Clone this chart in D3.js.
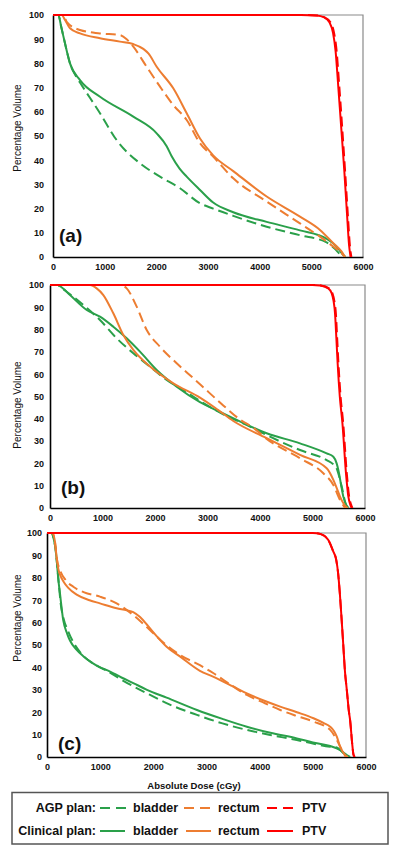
<!DOCTYPE html>
<html>
<head>
<meta charset="utf-8">
<script src="https://cdn.jsdelivr.net/npm/d3@7"></script>
<style>
  html, body { margin: 0; padding: 0; background: #fff; }
  svg { display: block; }
  text { font-family: "Liberation Sans", Arial, sans-serif; }
</style>
</head>
<body>
<svg id="chart" width="400" height="856"></svg>
<script>
// ---------------- DATA ----------------
const xTickValues = [0, 1000, 2000, 3000, 4000, 5000, 6000];
const yTickValues = [0, 10, 20, 30, 40, 50, 60, 70, 80, 90, 100];
const panelLabels = ["(a)", "(b)", "(c)"];
const xAxisTitle = "Absolute Dose (cGy)";
const yAxisTitle = "Percentage Volume";
const structures = ["bladder", "rectum", "PTV"];
const planNames = ["AGP plan:", "Clinical plan:"];

// Panel (a)  [dose cGy, volume %]
const aBladderAGP = [[0,100],[103,100],[160,95],[232,88.3],[329,80],[450,74.5],[555,71],[910,59.4],[1232,48.3],[1684,38.7],[2071,33.2],[2458,28.4],[2845,22.2],[3100,20],[3489,17],[4136,12.5],[4780,9],[5297,6],[5450,3.5],[5560,1],[5620,0]];
const aBladderClin = [[0,100],[103,100],[160,95],[232,88.3],[329,80],[523,73.1],[910,66.2],[1554,58],[2007,51.1],[2200,45.8],[2300,41.5],[2450,36.5],[2588,33.2],[2845,27.7],[3100,22.5],[3489,18.5],[4136,14.5],[4780,11],[5297,7.5],[5490,4.3],[5619,0.8],[5660,0]];
const aRectumAGP = [[0,100],[200,100],[265,97.2],[523,93.8],[910,92.4],[1297,91.7],[1426,90],[1555,86.9],[1813,78.6],[2071,70.4],[2328,62.8],[2588,56.6],[2845,47],[3100,41.5],[3489,32.5],[4136,22.9],[4780,13.9],[5167,8.4],[5425,4.3],[5619,0.8],[5650,0]];
const aRectumClin = [[0,100],[168,100],[232,98],[329,94.5],[523,92.4],[910,90.4],[1297,89],[1550,88],[1748,86],[1850,84],[2007,78.6],[2328,69.7],[2588,59.4],[2845,49],[3100,42],[3489,35.5],[4136,25],[4780,16.7],[5167,11.2],[5425,5.7],[5587,2.2],[5651,0]];
const aPTVAGP = [[0,100],[4800,100],[5100,99.8],[5260,99],[5370,97],[5440,92.6],[5490,85],[5536,72],[5570,62],[5605,51],[5655,35],[5705,18],[5745,5],[5775,0]];
const aPTVClin = [[0,100],[4800,100],[5100,99.8],[5250,99],[5350,97],[5420,92.6],[5470,85],[5516,72],[5550,62],[5587,51],[5640,35],[5690,18],[5730,5],[5760,0]];

// Panel (b)
const bBladderAGP = [[0,100],[150,100],[200,99],[318,97],[635,91],[952,84.3],[1270,76.1],[1587,69.4],[1905,63.4],[2222,57.4],[2540,52.9],[2857,48],[3300,42],[3810,36.5],[4127,32.7],[4762,26],[5270,21.5],[5400,19.5],[5460,17.8],[5510,14],[5556,9.6],[5651,0.6],[5670,0]];
const bBladderClin = [[0,100],[150,100],[190,99.5],[381,95.5],[699,88.8],[952,85.8],[1206,81.3],[1461,76.1],[1714,70.1],[2032,61.9],[2413,54.4],[2857,47.5],[3200,43.5],[3556,39.5],[4127,33.5],[4762,29],[5270,24.5],[5397,23],[5460,20],[5492,17],[5540,11],[5587,5.1],[5683,0]];
const bRectumAGP = [[0,100],[1333,100],[1461,98.5],[1651,90.3],[1842,79.8],[2095,72.3],[2413,64.9],[2730,58.2],[2857,55.5],[3300,46],[3600,40],[3900,35.5],[4127,31],[4762,22.3],[5206,15.6],[5397,10.3],[5524,3.6],[5620,0]];
const bRectumClin = [[0,100],[762,100],[889,98.5],[1016,95.5],[1206,87.3],[1397,77.6],[1587,70.9],[1905,63.4],[2349,55.9],[2857,49.5],[3200,44],[3492,39],[4127,31.3],[4762,23.8],[5270,17.8],[5397,12.6],[5460,9],[5524,5.1],[5651,0.3],[5670,0]];
const bPTVAGP = [[0,100],[5000,100],[5160,99.8],[5315,98.5],[5380,96.3],[5415,93],[5445,87.3],[5470,76],[5494,64.9],[5535,50],[5585,38],[5655,15],[5698,5.1],[5735,1.5],[5760,0]];
const bPTVClin = [[0,100],[5000,100],[5143,99.8],[5300,98.5],[5365,96.3],[5400,93],[5429,87.3],[5455,76],[5479,64.9],[5520,50],[5570,38],[5640,15],[5683,5.1],[5720,1.5],[5746,0]];

// Panel (c)
const cBladderAGP = [[0,100],[80,100],[130,97],[160,93],[182,88],[220,78],[260,68],[310,62],[400,56],[501,51],[650,46],[850,42],[1000,40],[1128,38.5],[1400,34.5],[1880,28.4],[2300,23.5],[2820,18.8],[3300,15],[3759,12.1],[4200,9.8],[4699,7.6],[5000,6],[5326,4.6],[5451,4.3],[5577,1.6],[5650,0]];
const cBladderClin = [[0,100],[80,100],[130,97],[160,93],[182,88],[210,80],[244,73],[306,61],[380,55],[432,52],[550,48],[682,45],[850,42],[996,40],[1128,38.8],[1400,35.5],[1622,33],[1880,30],[2250,26.5],[2820,21],[3300,17],[3759,13.5],[4200,10.8],[4699,8.3],[5000,6.5],[5326,4.9],[5514,3.1],[5639,0.9],[5700,0]];
const cRectumAGP = [[0,100],[100,100],[150,96],[182,89],[244,83.5],[350,79],[494,76],[700,73.5],[996,71.6],[1310,68.6],[1622,63.4],[1936,56.7],[2193,51],[2506,45.5],[2876,41],[3133,37.4],[3500,31.5],[3759,27.7],[4100,24],[4386,21],[4700,18.3],[5013,15.8],[5326,12.1],[5451,7.6],[5545,3.1],[5620,0]];
const cRectumClin = [[0,100],[100,100],[150,96],[182,89],[213,84],[260,80.5],[306,78.5],[400,75.5],[558,72.5],[800,70],[996,68.6],[1310,66.4],[1500,65.5],[1622,64.7],[1750,62.5],[1900,58.5],[2062,54],[2250,49.2],[2506,44.8],[2876,38.5],[3133,35.8],[3500,31.5],[3759,28.4],[4100,25],[4386,22.5],[4700,20],[5013,17.3],[5200,15.2],[5326,13.5],[5400,11.5],[5451,9.1],[5514,4.6],[5608,0.9],[5660,0]];
const cPTVAGP = [[0,100],[5000,100],[5150,99.5],[5288,97],[5380,92],[5440,88],[5476,82],[5508,73],[5540,62],[5570,51],[5605,38],[5639,30],[5680,20],[5701,16.5],[5740,6],[5765,1],[5790,0]];
const cPTVClin = [[0,100],[5000,100],[5150,99.5],[5288,97],[5380,92],[5440,88],[5476,82],[5508,73],[5540,62],[5570,51],[5605,38],[5639,30],[5680,20],[5701,16.5],[5740,6],[5765,1],[5790,0]];

// ---------------- STYLE / LAYOUT ----------------
const colors = { bladder: "#2AA04A", rectum: "#ED7D31", PTV: "#FF0000" };
const dashPattern = "10,5";

const layout = [
  { left: 53, right: 363, top: 15, bottom: 257, labelRight: 44, labelX: 59, labelY: 242, yTitleY: 128,
    series: { bladder: [aBladderAGP, aBladderClin], rectum: [aRectumAGP, aRectumClin], PTV: [aPTVAGP, aPTVClin] } },
  { left: 50, right: 365, top: 285, bottom: 508, labelRight: 44, labelX: 61, labelY: 494, yTitleY: 405,
    series: { bladder: [bBladderAGP, bBladderClin], rectum: [bRectumAGP, bRectumClin], PTV: [bPTVAGP, bPTVClin] } },
  { left: 47, right: 366, top: 533, bottom: 757, labelRight: 42, labelX: 58, labelY: 750, yTitleY: 618,
    series: { bladder: [cBladderAGP, cBladderClin], rectum: [cRectumAGP, cRectumClin], PTV: [cPTVAGP, cPTVClin] } }
];

const svg = d3.select("#chart");

layout.forEach((p, i) => {
  const x = d3.scaleLinear().domain([0, 6000]).range([p.left, p.right]);
  const y = d3.scaleLinear().domain([0, 100]).range([p.bottom, p.top]);
  const g = svg.append("g");

  // frame: top & right gray
  g.append("path")
    .attr("d", `M${p.left},${p.top}H${p.right}V${p.bottom}`)
    .attr("fill", "none").attr("stroke", "#8a8a8a").attr("stroke-width", 1.2);

  // axes
  const xAxis = d3.axisBottom(x).tickValues(xTickValues).tickSize(0).tickPadding(7).tickFormat(d3.format("d"));
  const yAxis = d3.axisLeft(y).tickValues(yTickValues).tickSize(0).tickPadding(p.left - p.labelRight).tickFormat(d3.format("d"));

  const gx = g.append("g").attr("transform", `translate(0,${p.bottom})`).call(xAxis);
  const gy = g.append("g").attr("transform", `translate(${p.left},0)`).call(yAxis);
  [gx, gy].forEach(a => {
    a.select(".domain").attr("stroke", "#000").attr("stroke-width", 1.6);
    a.selectAll("text").attr("font-size", 9).attr("font-weight", "bold").attr("fill", "#111")
      .attr("font-family", "'Liberation Sans', Arial, sans-serif");
  });

  // clip
  const clipId = "clip" + i;
  svg.append("clipPath").attr("id", clipId).append("rect")
    .attr("x", p.left).attr("y", p.top - 2).attr("width", p.right - p.left + 4).attr("height", p.bottom - p.top + 2);

  const line = d3.line().x(d => x(d[0])).y(d => y(d[1])).curve(d3.curveMonotoneX);
  const cg = g.append("g").attr("clip-path", `url(#${clipId})`);
  structures.forEach(s => {
    const [agp, clin] = p.series[s];
    cg.append("path").datum(clin).attr("d", line).attr("fill", "none")
      .attr("stroke", colors[s]).attr("stroke-width", 2);
    cg.append("path").datum(agp).attr("d", line).attr("fill", "none")
      .attr("stroke", colors[s]).attr("stroke-width", 2).attr("stroke-dasharray", dashPattern);
  });

  // panel label
  g.append("text").attr("x", p.labelX).attr("y", p.labelY).text(panelLabels[i])
    .attr("font-size", 19).attr("font-weight", "bold").attr("fill", "#111");

  // y-axis title
  g.append("text").attr("transform", `translate(17.5,${p.yTitleY}) rotate(-90)`)
    .attr("text-anchor", "middle").attr("dominant-baseline", "central")
    .attr("font-size", 10).attr("fill", "#111").text(yAxisTitle);
});

// x-axis title
svg.append("text").attr("x", 194).attr("y", 788.5).attr("text-anchor", "middle")
  .attr("font-size", 9.5).attr("font-weight", "bold").attr("fill", "#111").text(xAxisTitle);

// legend
const lg = svg.append("g");
lg.append("rect").attr("x", 12).attr("y", 792.5).attr("width", 376).attr("height", 51.5)
  .attr("fill", "#fff").attr("stroke", "#555").attr("stroke-width", 1.5);

const rowY = [808, 831];
const lineStart = { bladder: [100, 100], rectum: [184, 186], PTV: [267, 267] };
const lineEnd = { bladder: [128, 125], rectum: [215, 211], PTV: [295, 293] };
const textX = { bladder: 133, rectum: 218, PTV: 302 };
planNames.forEach((name, r) => {
  lg.append("text").attr("x", 96).attr("y", rowY[r]).attr("text-anchor", "end")
    .attr("dominant-baseline", "central").attr("font-size", 12.5).attr("font-weight", "bold")
    .attr("fill", "#111").text(name);
  structures.forEach(s => {
    lg.append("line").attr("x1", lineStart[s][r]).attr("x2", lineEnd[s][r])
      .attr("y1", rowY[r]).attr("y2", rowY[r]).attr("stroke", colors[s]).attr("stroke-width", 2)
      .attr("stroke-dasharray", r === 0 ? "10,6" : null);
    lg.append("text").attr("x", textX[s]).attr("y", rowY[r]).attr("dominant-baseline", "central")
      .attr("font-size", 12.5).attr("font-weight", "bold").attr("fill", "#111").text(s);
  });
});
</script>
</body>
</html>
